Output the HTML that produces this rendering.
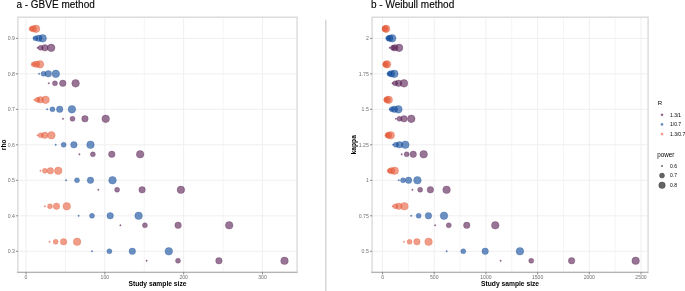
<!DOCTYPE html>
<html><head><meta charset="utf-8"><title>Sample size plots</title>
<style>html,body{margin:0;padding:0;background:#fff;}svg{display:block;will-change:transform;}</style></head>
<body><svg width="685" height="291" viewBox="0 0 685 291" style="font-family:'Liberation Sans',sans-serif">
<rect width="685" height="291" fill="#fff"/>
<line x1="65.41" y1="17.2" x2="65.41" y2="272.4" stroke="#f5f5f5" stroke-width="1"/>
<line x1="144.25" y1="17.2" x2="144.25" y2="272.4" stroke="#f5f5f5" stroke-width="1"/>
<line x1="223.07" y1="17.2" x2="223.07" y2="272.4" stroke="#f5f5f5" stroke-width="1"/>
<line x1="26" y1="17.2" x2="26" y2="272.4" stroke="#efefef" stroke-width="1"/>
<line x1="104.83" y1="17.2" x2="104.83" y2="272.4" stroke="#efefef" stroke-width="1"/>
<line x1="183.66" y1="17.2" x2="183.66" y2="272.4" stroke="#efefef" stroke-width="1"/>
<line x1="262.49" y1="17.2" x2="262.49" y2="272.4" stroke="#efefef" stroke-width="1"/>
<line x1="17.9" y1="38.35" x2="297.1" y2="38.35" stroke="#efefef" stroke-width="1"/>
<line x1="17.9" y1="73.84" x2="297.1" y2="73.84" stroke="#efefef" stroke-width="1"/>
<line x1="17.9" y1="109.33" x2="297.1" y2="109.33" stroke="#efefef" stroke-width="1"/>
<line x1="17.9" y1="144.82" x2="297.1" y2="144.82" stroke="#efefef" stroke-width="1"/>
<line x1="17.9" y1="180.31" x2="297.1" y2="180.31" stroke="#efefef" stroke-width="1"/>
<line x1="17.9" y1="215.8" x2="297.1" y2="215.8" stroke="#efefef" stroke-width="1"/>
<line x1="17.9" y1="251.29" x2="297.1" y2="251.29" stroke="#efefef" stroke-width="1"/>
<circle cx="30.3" cy="28.85" r="0.75" fill="rgba(228,90,57,0.6)" stroke="rgba(228,90,57,0.6)" stroke-width="0.45"/>
<circle cx="31.5" cy="28.85" r="2.5" fill="rgba(228,90,57,0.6)" stroke="rgba(228,90,57,0.6)" stroke-width="0.45"/>
<circle cx="33.4" cy="28.85" r="3.25" fill="rgba(228,90,57,0.6)" stroke="rgba(228,90,57,0.6)" stroke-width="0.45"/>
<circle cx="36.1" cy="28.85" r="3.8" fill="rgba(228,90,57,0.6)" stroke="rgba(228,90,57,0.6)" stroke-width="0.45"/>
<circle cx="34" cy="38.35" r="0.75" fill="rgba(10,70,152,0.6)" stroke="rgba(10,70,152,0.6)" stroke-width="0.45"/>
<circle cx="35.5" cy="38.35" r="2.5" fill="rgba(10,70,152,0.6)" stroke="rgba(10,70,152,0.6)" stroke-width="0.45"/>
<circle cx="38.8" cy="38.35" r="3.25" fill="rgba(10,70,152,0.6)" stroke="rgba(10,70,152,0.6)" stroke-width="0.45"/>
<circle cx="42.7" cy="38.35" r="3.8" fill="rgba(10,70,152,0.6)" stroke="rgba(10,70,152,0.6)" stroke-width="0.45"/>
<circle cx="37.6" cy="47.85" r="0.75" fill="rgba(84,24,78,0.6)" stroke="rgba(84,24,78,0.6)" stroke-width="0.45"/>
<circle cx="40.6" cy="47.85" r="2.5" fill="rgba(84,24,78,0.6)" stroke="rgba(84,24,78,0.6)" stroke-width="0.45"/>
<circle cx="44.9" cy="47.85" r="3.25" fill="rgba(84,24,78,0.6)" stroke="rgba(84,24,78,0.6)" stroke-width="0.45"/>
<circle cx="51.2" cy="47.85" r="3.8" fill="rgba(84,24,78,0.6)" stroke="rgba(84,24,78,0.6)" stroke-width="0.45"/>
<circle cx="32.4" cy="64.34" r="0.75" fill="rgba(228,90,57,0.6)" stroke="rgba(228,90,57,0.6)" stroke-width="0.45"/>
<circle cx="33.7" cy="64.34" r="2.5" fill="rgba(228,90,57,0.6)" stroke="rgba(228,90,57,0.6)" stroke-width="0.45"/>
<circle cx="36.4" cy="64.34" r="3.25" fill="rgba(228,90,57,0.6)" stroke="rgba(228,90,57,0.6)" stroke-width="0.45"/>
<circle cx="40" cy="64.34" r="3.8" fill="rgba(228,90,57,0.6)" stroke="rgba(228,90,57,0.6)" stroke-width="0.45"/>
<circle cx="39.1" cy="73.84" r="0.75" fill="rgba(10,70,152,0.6)" stroke="rgba(10,70,152,0.6)" stroke-width="0.45"/>
<circle cx="43.5" cy="73.84" r="2.5" fill="rgba(10,70,152,0.6)" stroke="rgba(10,70,152,0.6)" stroke-width="0.45"/>
<circle cx="48.3" cy="73.84" r="3.25" fill="rgba(10,70,152,0.6)" stroke="rgba(10,70,152,0.6)" stroke-width="0.45"/>
<circle cx="55.8" cy="73.84" r="3.8" fill="rgba(10,70,152,0.6)" stroke="rgba(10,70,152,0.6)" stroke-width="0.45"/>
<circle cx="48.75" cy="83.34" r="0.75" fill="rgba(84,24,78,0.6)" stroke="rgba(84,24,78,0.6)" stroke-width="0.45"/>
<circle cx="54.95" cy="83.34" r="2.5" fill="rgba(84,24,78,0.6)" stroke="rgba(84,24,78,0.6)" stroke-width="0.45"/>
<circle cx="62.8" cy="83.34" r="3.25" fill="rgba(84,24,78,0.6)" stroke="rgba(84,24,78,0.6)" stroke-width="0.45"/>
<circle cx="75.6" cy="83.34" r="3.8" fill="rgba(84,24,78,0.6)" stroke="rgba(84,24,78,0.6)" stroke-width="0.45"/>
<circle cx="34.4" cy="99.83" r="0.75" fill="rgba(228,90,57,0.6)" stroke="rgba(228,90,57,0.6)" stroke-width="0.45"/>
<circle cx="37.4" cy="99.83" r="2.5" fill="rgba(228,90,57,0.6)" stroke="rgba(228,90,57,0.6)" stroke-width="0.45"/>
<circle cx="40.3" cy="99.83" r="3.25" fill="rgba(228,90,57,0.6)" stroke="rgba(228,90,57,0.6)" stroke-width="0.45"/>
<circle cx="45.6" cy="99.83" r="3.8" fill="rgba(228,90,57,0.6)" stroke="rgba(228,90,57,0.6)" stroke-width="0.45"/>
<circle cx="47.15" cy="109.33" r="0.75" fill="rgba(10,70,152,0.6)" stroke="rgba(10,70,152,0.6)" stroke-width="0.45"/>
<circle cx="52.45" cy="109.33" r="2.5" fill="rgba(10,70,152,0.6)" stroke="rgba(10,70,152,0.6)" stroke-width="0.45"/>
<circle cx="59.7" cy="109.33" r="3.25" fill="rgba(10,70,152,0.6)" stroke="rgba(10,70,152,0.6)" stroke-width="0.45"/>
<circle cx="71.9" cy="109.33" r="3.8" fill="rgba(10,70,152,0.6)" stroke="rgba(10,70,152,0.6)" stroke-width="0.45"/>
<circle cx="63" cy="118.83" r="0.75" fill="rgba(84,24,78,0.6)" stroke="rgba(84,24,78,0.6)" stroke-width="0.45"/>
<circle cx="72.5" cy="118.83" r="2.5" fill="rgba(84,24,78,0.6)" stroke="rgba(84,24,78,0.6)" stroke-width="0.45"/>
<circle cx="84.95" cy="118.83" r="3.25" fill="rgba(84,24,78,0.6)" stroke="rgba(84,24,78,0.6)" stroke-width="0.45"/>
<circle cx="105.7" cy="118.83" r="3.8" fill="rgba(84,24,78,0.6)" stroke="rgba(84,24,78,0.6)" stroke-width="0.45"/>
<circle cx="37.6" cy="135.32" r="0.75" fill="rgba(228,90,57,0.6)" stroke="rgba(228,90,57,0.6)" stroke-width="0.45"/>
<circle cx="40.75" cy="135.32" r="2.5" fill="rgba(228,90,57,0.6)" stroke="rgba(228,90,57,0.6)" stroke-width="0.45"/>
<circle cx="44.8" cy="135.32" r="3.25" fill="rgba(228,90,57,0.6)" stroke="rgba(228,90,57,0.6)" stroke-width="0.45"/>
<circle cx="51.4" cy="135.32" r="3.8" fill="rgba(228,90,57,0.6)" stroke="rgba(228,90,57,0.6)" stroke-width="0.45"/>
<circle cx="55.7" cy="144.82" r="0.75" fill="rgba(10,70,152,0.6)" stroke="rgba(10,70,152,0.6)" stroke-width="0.45"/>
<circle cx="63.65" cy="144.82" r="2.5" fill="rgba(10,70,152,0.6)" stroke="rgba(10,70,152,0.6)" stroke-width="0.45"/>
<circle cx="73.9" cy="144.82" r="3.25" fill="rgba(10,70,152,0.6)" stroke="rgba(10,70,152,0.6)" stroke-width="0.45"/>
<circle cx="90.5" cy="144.82" r="3.8" fill="rgba(10,70,152,0.6)" stroke="rgba(10,70,152,0.6)" stroke-width="0.45"/>
<circle cx="79.4" cy="154.32" r="0.75" fill="rgba(84,24,78,0.6)" stroke="rgba(84,24,78,0.6)" stroke-width="0.45"/>
<circle cx="92.85" cy="154.32" r="2.5" fill="rgba(84,24,78,0.6)" stroke="rgba(84,24,78,0.6)" stroke-width="0.45"/>
<circle cx="111.8" cy="154.32" r="3.25" fill="rgba(84,24,78,0.6)" stroke="rgba(84,24,78,0.6)" stroke-width="0.45"/>
<circle cx="140.15" cy="154.32" r="3.8" fill="rgba(84,24,78,0.6)" stroke="rgba(84,24,78,0.6)" stroke-width="0.45"/>
<circle cx="40.5" cy="170.81" r="0.75" fill="rgba(228,90,57,0.6)" stroke="rgba(228,90,57,0.6)" stroke-width="0.45"/>
<circle cx="44.85" cy="170.81" r="2.5" fill="rgba(228,90,57,0.6)" stroke="rgba(228,90,57,0.6)" stroke-width="0.45"/>
<circle cx="50.4" cy="170.81" r="3.25" fill="rgba(228,90,57,0.6)" stroke="rgba(228,90,57,0.6)" stroke-width="0.45"/>
<circle cx="58.25" cy="170.81" r="3.8" fill="rgba(228,90,57,0.6)" stroke="rgba(228,90,57,0.6)" stroke-width="0.45"/>
<circle cx="66.1" cy="180.31" r="0.75" fill="rgba(10,70,152,0.6)" stroke="rgba(10,70,152,0.6)" stroke-width="0.45"/>
<circle cx="77" cy="180.31" r="2.5" fill="rgba(10,70,152,0.6)" stroke="rgba(10,70,152,0.6)" stroke-width="0.45"/>
<circle cx="90.45" cy="180.31" r="3.25" fill="rgba(10,70,152,0.6)" stroke="rgba(10,70,152,0.6)" stroke-width="0.45"/>
<circle cx="112.5" cy="180.31" r="3.8" fill="rgba(10,70,152,0.6)" stroke="rgba(10,70,152,0.6)" stroke-width="0.45"/>
<circle cx="98.3" cy="189.81" r="0.75" fill="rgba(84,24,78,0.6)" stroke="rgba(84,24,78,0.6)" stroke-width="0.45"/>
<circle cx="117.1" cy="189.81" r="2.5" fill="rgba(84,24,78,0.6)" stroke="rgba(84,24,78,0.6)" stroke-width="0.45"/>
<circle cx="142.1" cy="189.81" r="3.25" fill="rgba(84,24,78,0.6)" stroke="rgba(84,24,78,0.6)" stroke-width="0.45"/>
<circle cx="180.9" cy="189.81" r="3.8" fill="rgba(84,24,78,0.6)" stroke="rgba(84,24,78,0.6)" stroke-width="0.45"/>
<circle cx="44.8" cy="206.3" r="0.75" fill="rgba(228,90,57,0.6)" stroke="rgba(228,90,57,0.6)" stroke-width="0.45"/>
<circle cx="50" cy="206.3" r="2.5" fill="rgba(228,90,57,0.6)" stroke="rgba(228,90,57,0.6)" stroke-width="0.45"/>
<circle cx="56.5" cy="206.3" r="3.25" fill="rgba(228,90,57,0.6)" stroke="rgba(228,90,57,0.6)" stroke-width="0.45"/>
<circle cx="66.75" cy="206.3" r="3.8" fill="rgba(228,90,57,0.6)" stroke="rgba(228,90,57,0.6)" stroke-width="0.45"/>
<circle cx="78.65" cy="215.8" r="0.75" fill="rgba(10,70,152,0.6)" stroke="rgba(10,70,152,0.6)" stroke-width="0.45"/>
<circle cx="92" cy="215.8" r="2.5" fill="rgba(10,70,152,0.6)" stroke="rgba(10,70,152,0.6)" stroke-width="0.45"/>
<circle cx="110.2" cy="215.8" r="3.25" fill="rgba(10,70,152,0.6)" stroke="rgba(10,70,152,0.6)" stroke-width="0.45"/>
<circle cx="138.6" cy="215.8" r="3.8" fill="rgba(10,70,152,0.6)" stroke="rgba(10,70,152,0.6)" stroke-width="0.45"/>
<circle cx="120.4" cy="225.3" r="0.75" fill="rgba(84,24,78,0.6)" stroke="rgba(84,24,78,0.6)" stroke-width="0.45"/>
<circle cx="144.9" cy="225.3" r="2.5" fill="rgba(84,24,78,0.6)" stroke="rgba(84,24,78,0.6)" stroke-width="0.45"/>
<circle cx="178.1" cy="225.3" r="3.25" fill="rgba(84,24,78,0.6)" stroke="rgba(84,24,78,0.6)" stroke-width="0.45"/>
<circle cx="229.2" cy="225.3" r="3.8" fill="rgba(84,24,78,0.6)" stroke="rgba(84,24,78,0.6)" stroke-width="0.45"/>
<circle cx="49.5" cy="241.79" r="0.75" fill="rgba(228,90,57,0.6)" stroke="rgba(228,90,57,0.6)" stroke-width="0.45"/>
<circle cx="55.7" cy="241.79" r="2.5" fill="rgba(228,90,57,0.6)" stroke="rgba(228,90,57,0.6)" stroke-width="0.45"/>
<circle cx="63.6" cy="241.79" r="3.25" fill="rgba(228,90,57,0.6)" stroke="rgba(228,90,57,0.6)" stroke-width="0.45"/>
<circle cx="77.1" cy="241.79" r="3.8" fill="rgba(228,90,57,0.6)" stroke="rgba(228,90,57,0.6)" stroke-width="0.45"/>
<circle cx="92" cy="251.29" r="0.75" fill="rgba(10,70,152,0.6)" stroke="rgba(10,70,152,0.6)" stroke-width="0.45"/>
<circle cx="109.4" cy="251.29" r="2.5" fill="rgba(10,70,152,0.6)" stroke="rgba(10,70,152,0.6)" stroke-width="0.45"/>
<circle cx="132.3" cy="251.29" r="3.25" fill="rgba(10,70,152,0.6)" stroke="rgba(10,70,152,0.6)" stroke-width="0.45"/>
<circle cx="168.8" cy="251.29" r="3.8" fill="rgba(10,70,152,0.6)" stroke="rgba(10,70,152,0.6)" stroke-width="0.45"/>
<circle cx="146.6" cy="260.79" r="0.75" fill="rgba(84,24,78,0.6)" stroke="rgba(84,24,78,0.6)" stroke-width="0.45"/>
<circle cx="178" cy="260.79" r="2.5" fill="rgba(84,24,78,0.6)" stroke="rgba(84,24,78,0.6)" stroke-width="0.45"/>
<circle cx="218.9" cy="260.79" r="3.25" fill="rgba(84,24,78,0.6)" stroke="rgba(84,24,78,0.6)" stroke-width="0.45"/>
<circle cx="284.5" cy="260.79" r="3.8" fill="rgba(84,24,78,0.6)" stroke="rgba(84,24,78,0.6)" stroke-width="0.45"/>
<rect x="17.9" y="17.2" width="279.2" height="255.2" fill="none" stroke="#dadada" stroke-width="1.4"/>
<line x1="17.099999999999998" y1="272.4" x2="297.40000000000003" y2="272.4" stroke="#b4b4b4" stroke-width="1.1"/>
<line x1="15.9" y1="38.35" x2="17.9" y2="38.35" stroke="#555" stroke-width="0.7"/>
<line x1="15.9" y1="73.84" x2="17.9" y2="73.84" stroke="#555" stroke-width="0.7"/>
<line x1="15.9" y1="109.33" x2="17.9" y2="109.33" stroke="#555" stroke-width="0.7"/>
<line x1="15.9" y1="144.82" x2="17.9" y2="144.82" stroke="#555" stroke-width="0.7"/>
<line x1="15.9" y1="180.31" x2="17.9" y2="180.31" stroke="#555" stroke-width="0.7"/>
<line x1="15.9" y1="215.8" x2="17.9" y2="215.8" stroke="#555" stroke-width="0.7"/>
<line x1="15.9" y1="251.29" x2="17.9" y2="251.29" stroke="#555" stroke-width="0.7"/>
<line x1="26" y1="272.4" x2="26" y2="274.4" stroke="#555" stroke-width="0.7"/>
<line x1="104.83" y1="272.4" x2="104.83" y2="274.4" stroke="#555" stroke-width="0.7"/>
<line x1="183.66" y1="272.4" x2="183.66" y2="274.4" stroke="#555" stroke-width="0.7"/>
<line x1="262.49" y1="272.4" x2="262.49" y2="274.4" stroke="#555" stroke-width="0.7"/>
<text x="15.0" y="40.45" font-size="5.2" fill="#707070" text-anchor="end" font-family="Liberation Sans, sans-serif">0.9</text>
<text x="15.0" y="75.94" font-size="5.2" fill="#707070" text-anchor="end" font-family="Liberation Sans, sans-serif">0.8</text>
<text x="15.0" y="111.43" font-size="5.2" fill="#707070" text-anchor="end" font-family="Liberation Sans, sans-serif">0.7</text>
<text x="15.0" y="146.92" font-size="5.2" fill="#707070" text-anchor="end" font-family="Liberation Sans, sans-serif">0.6</text>
<text x="15.0" y="182.41" font-size="5.2" fill="#707070" text-anchor="end" font-family="Liberation Sans, sans-serif">0.5</text>
<text x="15.0" y="217.9" font-size="5.2" fill="#707070" text-anchor="end" font-family="Liberation Sans, sans-serif">0.4</text>
<text x="15.0" y="253.39" font-size="5.2" fill="#707070" text-anchor="end" font-family="Liberation Sans, sans-serif">0.3</text>
<text x="26" y="278.6" font-size="5.1" fill="#707070" text-anchor="middle" font-family="Liberation Sans, sans-serif">0</text>
<text x="104.83" y="278.6" font-size="5.1" fill="#707070" text-anchor="middle" font-family="Liberation Sans, sans-serif">100</text>
<text x="183.66" y="278.6" font-size="5.1" fill="#707070" text-anchor="middle" font-family="Liberation Sans, sans-serif">200</text>
<text x="262.49" y="278.6" font-size="5.1" fill="#707070" text-anchor="middle" font-family="Liberation Sans, sans-serif">300</text>
<text x="157.5" y="286.1" font-size="6.7" font-weight="bold" fill="#000" text-anchor="middle" font-family="Liberation Sans, sans-serif">Study sample size</text>
<text transform="translate(5.5,144.8) rotate(-90)" x="0" y="0" font-size="6.7" font-weight="bold" fill="#000" text-anchor="middle" font-family="Liberation Sans, sans-serif">rho</text>
<text x="16.4" y="7.5" font-size="10" fill="#000" stroke="#000" stroke-width="0.12" font-family="Liberation Sans, sans-serif">a - GBVE method</text>
<line x1="408.39" y1="17.2" x2="408.39" y2="272.4" stroke="#f5f5f5" stroke-width="1"/>
<line x1="460.09" y1="17.2" x2="460.09" y2="272.4" stroke="#f5f5f5" stroke-width="1"/>
<line x1="511.77" y1="17.2" x2="511.77" y2="272.4" stroke="#f5f5f5" stroke-width="1"/>
<line x1="563.47" y1="17.2" x2="563.47" y2="272.4" stroke="#f5f5f5" stroke-width="1"/>
<line x1="615.15" y1="17.2" x2="615.15" y2="272.4" stroke="#f5f5f5" stroke-width="1"/>
<line x1="382.55" y1="17.2" x2="382.55" y2="272.4" stroke="#efefef" stroke-width="1"/>
<line x1="434.24" y1="17.2" x2="434.24" y2="272.4" stroke="#efefef" stroke-width="1"/>
<line x1="485.93" y1="17.2" x2="485.93" y2="272.4" stroke="#efefef" stroke-width="1"/>
<line x1="537.62" y1="17.2" x2="537.62" y2="272.4" stroke="#efefef" stroke-width="1"/>
<line x1="589.31" y1="17.2" x2="589.31" y2="272.4" stroke="#efefef" stroke-width="1"/>
<line x1="641" y1="17.2" x2="641" y2="272.4" stroke="#efefef" stroke-width="1"/>
<line x1="372.1" y1="38.35" x2="648.1" y2="38.35" stroke="#efefef" stroke-width="1"/>
<line x1="372.1" y1="73.84" x2="648.1" y2="73.84" stroke="#efefef" stroke-width="1"/>
<line x1="372.1" y1="109.33" x2="648.1" y2="109.33" stroke="#efefef" stroke-width="1"/>
<line x1="372.1" y1="144.82" x2="648.1" y2="144.82" stroke="#efefef" stroke-width="1"/>
<line x1="372.1" y1="180.31" x2="648.1" y2="180.31" stroke="#efefef" stroke-width="1"/>
<line x1="372.1" y1="215.8" x2="648.1" y2="215.8" stroke="#efefef" stroke-width="1"/>
<line x1="372.1" y1="251.29" x2="648.1" y2="251.29" stroke="#efefef" stroke-width="1"/>
<circle cx="384.23" cy="28.85" r="0.75" fill="rgba(228,90,57,0.6)" stroke="rgba(228,90,57,0.6)" stroke-width="0.45"/>
<circle cx="384.67" cy="28.85" r="2.5" fill="rgba(228,90,57,0.6)" stroke="rgba(228,90,57,0.6)" stroke-width="0.45"/>
<circle cx="385.24" cy="28.85" r="3.25" fill="rgba(228,90,57,0.6)" stroke="rgba(228,90,57,0.6)" stroke-width="0.45"/>
<circle cx="386.15" cy="28.85" r="3.8" fill="rgba(228,90,57,0.6)" stroke="rgba(228,90,57,0.6)" stroke-width="0.45"/>
<circle cx="387.05" cy="38.35" r="0.75" fill="rgba(10,70,152,0.6)" stroke="rgba(10,70,152,0.6)" stroke-width="0.45"/>
<circle cx="388.22" cy="38.35" r="2.5" fill="rgba(10,70,152,0.6)" stroke="rgba(10,70,152,0.6)" stroke-width="0.45"/>
<circle cx="389.76" cy="38.35" r="3.25" fill="rgba(10,70,152,0.6)" stroke="rgba(10,70,152,0.6)" stroke-width="0.45"/>
<circle cx="392.2" cy="38.35" r="3.8" fill="rgba(10,70,152,0.6)" stroke="rgba(10,70,152,0.6)" stroke-width="0.45"/>
<circle cx="389.7" cy="47.85" r="0.75" fill="rgba(84,24,78,0.6)" stroke="rgba(84,24,78,0.6)" stroke-width="0.45"/>
<circle cx="392.85" cy="47.85" r="2.5" fill="rgba(84,24,78,0.6)" stroke="rgba(84,24,78,0.6)" stroke-width="0.45"/>
<circle cx="394.8" cy="47.85" r="3.25" fill="rgba(84,24,78,0.6)" stroke="rgba(84,24,78,0.6)" stroke-width="0.45"/>
<circle cx="399.1" cy="47.85" r="3.8" fill="rgba(84,24,78,0.6)" stroke="rgba(84,24,78,0.6)" stroke-width="0.45"/>
<circle cx="384.7" cy="64.34" r="0.75" fill="rgba(228,90,57,0.6)" stroke="rgba(228,90,57,0.6)" stroke-width="0.45"/>
<circle cx="385.26" cy="64.34" r="2.5" fill="rgba(228,90,57,0.6)" stroke="rgba(228,90,57,0.6)" stroke-width="0.45"/>
<circle cx="385.99" cy="64.34" r="3.25" fill="rgba(228,90,57,0.6)" stroke="rgba(228,90,57,0.6)" stroke-width="0.45"/>
<circle cx="387.16" cy="64.34" r="3.8" fill="rgba(228,90,57,0.6)" stroke="rgba(228,90,57,0.6)" stroke-width="0.45"/>
<circle cx="388.05" cy="73.84" r="0.75" fill="rgba(10,70,152,0.6)" stroke="rgba(10,70,152,0.6)" stroke-width="0.45"/>
<circle cx="389.48" cy="73.84" r="2.5" fill="rgba(10,70,152,0.6)" stroke="rgba(10,70,152,0.6)" stroke-width="0.45"/>
<circle cx="391.36" cy="73.84" r="3.25" fill="rgba(10,70,152,0.6)" stroke="rgba(10,70,152,0.6)" stroke-width="0.45"/>
<circle cx="394.35" cy="73.84" r="3.8" fill="rgba(10,70,152,0.6)" stroke="rgba(10,70,152,0.6)" stroke-width="0.45"/>
<circle cx="392.55" cy="83.34" r="0.75" fill="rgba(84,24,78,0.6)" stroke="rgba(84,24,78,0.6)" stroke-width="0.45"/>
<circle cx="395.15" cy="83.34" r="2.5" fill="rgba(84,24,78,0.6)" stroke="rgba(84,24,78,0.6)" stroke-width="0.45"/>
<circle cx="398.57" cy="83.34" r="3.25" fill="rgba(84,24,78,0.6)" stroke="rgba(84,24,78,0.6)" stroke-width="0.45"/>
<circle cx="404" cy="83.34" r="3.8" fill="rgba(84,24,78,0.6)" stroke="rgba(84,24,78,0.6)" stroke-width="0.45"/>
<circle cx="385.45" cy="99.83" r="0.75" fill="rgba(228,90,57,0.6)" stroke="rgba(228,90,57,0.6)" stroke-width="0.45"/>
<circle cx="386.2" cy="99.83" r="2.5" fill="rgba(228,90,57,0.6)" stroke="rgba(228,90,57,0.6)" stroke-width="0.45"/>
<circle cx="387.2" cy="99.83" r="3.25" fill="rgba(228,90,57,0.6)" stroke="rgba(228,90,57,0.6)" stroke-width="0.45"/>
<circle cx="388.77" cy="99.83" r="3.8" fill="rgba(228,90,57,0.6)" stroke="rgba(228,90,57,0.6)" stroke-width="0.45"/>
<circle cx="389.95" cy="109.33" r="0.75" fill="rgba(10,70,152,0.6)" stroke="rgba(10,70,152,0.6)" stroke-width="0.45"/>
<circle cx="391.87" cy="109.33" r="2.5" fill="rgba(10,70,152,0.6)" stroke="rgba(10,70,152,0.6)" stroke-width="0.45"/>
<circle cx="394.41" cy="109.33" r="3.25" fill="rgba(10,70,152,0.6)" stroke="rgba(10,70,152,0.6)" stroke-width="0.45"/>
<circle cx="398.42" cy="109.33" r="3.8" fill="rgba(10,70,152,0.6)" stroke="rgba(10,70,152,0.6)" stroke-width="0.45"/>
<circle cx="395.95" cy="118.83" r="0.75" fill="rgba(84,24,78,0.6)" stroke="rgba(84,24,78,0.6)" stroke-width="0.45"/>
<circle cx="399.43" cy="118.83" r="2.5" fill="rgba(84,24,78,0.6)" stroke="rgba(84,24,78,0.6)" stroke-width="0.45"/>
<circle cx="404.02" cy="118.83" r="3.25" fill="rgba(84,24,78,0.6)" stroke="rgba(84,24,78,0.6)" stroke-width="0.45"/>
<circle cx="411.29" cy="118.83" r="3.8" fill="rgba(84,24,78,0.6)" stroke="rgba(84,24,78,0.6)" stroke-width="0.45"/>
<circle cx="386.4" cy="135.32" r="0.75" fill="rgba(228,90,57,0.6)" stroke="rgba(228,90,57,0.6)" stroke-width="0.45"/>
<circle cx="387.4" cy="135.32" r="2.5" fill="rgba(228,90,57,0.6)" stroke="rgba(228,90,57,0.6)" stroke-width="0.45"/>
<circle cx="388.72" cy="135.32" r="3.25" fill="rgba(228,90,57,0.6)" stroke="rgba(228,90,57,0.6)" stroke-width="0.45"/>
<circle cx="390.81" cy="135.32" r="3.8" fill="rgba(228,90,57,0.6)" stroke="rgba(228,90,57,0.6)" stroke-width="0.45"/>
<circle cx="393.15" cy="144.82" r="0.75" fill="rgba(10,70,152,0.6)" stroke="rgba(10,70,152,0.6)" stroke-width="0.45"/>
<circle cx="395.9" cy="144.82" r="2.5" fill="rgba(10,70,152,0.6)" stroke="rgba(10,70,152,0.6)" stroke-width="0.45"/>
<circle cx="399.53" cy="144.82" r="3.25" fill="rgba(10,70,152,0.6)" stroke="rgba(10,70,152,0.6)" stroke-width="0.45"/>
<circle cx="405.29" cy="144.82" r="3.8" fill="rgba(10,70,152,0.6)" stroke="rgba(10,70,152,0.6)" stroke-width="0.45"/>
<circle cx="401.7" cy="154.32" r="0.75" fill="rgba(84,24,78,0.6)" stroke="rgba(84,24,78,0.6)" stroke-width="0.45"/>
<circle cx="406.68" cy="154.32" r="2.5" fill="rgba(84,24,78,0.6)" stroke="rgba(84,24,78,0.6)" stroke-width="0.45"/>
<circle cx="413.23" cy="154.32" r="3.25" fill="rgba(84,24,78,0.6)" stroke="rgba(84,24,78,0.6)" stroke-width="0.45"/>
<circle cx="423.63" cy="154.32" r="3.8" fill="rgba(84,24,78,0.6)" stroke="rgba(84,24,78,0.6)" stroke-width="0.45"/>
<circle cx="388.25" cy="170.81" r="0.75" fill="rgba(228,90,57,0.6)" stroke="rgba(228,90,57,0.6)" stroke-width="0.45"/>
<circle cx="389.73" cy="170.81" r="2.5" fill="rgba(228,90,57,0.6)" stroke="rgba(228,90,57,0.6)" stroke-width="0.45"/>
<circle cx="391.68" cy="170.81" r="3.25" fill="rgba(228,90,57,0.6)" stroke="rgba(228,90,57,0.6)" stroke-width="0.45"/>
<circle cx="394.78" cy="170.81" r="3.8" fill="rgba(228,90,57,0.6)" stroke="rgba(228,90,57,0.6)" stroke-width="0.45"/>
<circle cx="398.8" cy="180.31" r="0.75" fill="rgba(10,70,152,0.6)" stroke="rgba(10,70,152,0.6)" stroke-width="0.45"/>
<circle cx="403.02" cy="180.31" r="2.5" fill="rgba(10,70,152,0.6)" stroke="rgba(10,70,152,0.6)" stroke-width="0.45"/>
<circle cx="408.59" cy="180.31" r="3.25" fill="rgba(10,70,152,0.6)" stroke="rgba(10,70,152,0.6)" stroke-width="0.45"/>
<circle cx="417.41" cy="180.31" r="3.8" fill="rgba(10,70,152,0.6)" stroke="rgba(10,70,152,0.6)" stroke-width="0.45"/>
<circle cx="412.4" cy="189.81" r="0.75" fill="rgba(84,24,78,0.6)" stroke="rgba(84,24,78,0.6)" stroke-width="0.45"/>
<circle cx="420.16" cy="189.81" r="2.5" fill="rgba(84,24,78,0.6)" stroke="rgba(84,24,78,0.6)" stroke-width="0.45"/>
<circle cx="430.38" cy="189.81" r="3.25" fill="rgba(84,24,78,0.6)" stroke="rgba(84,24,78,0.6)" stroke-width="0.45"/>
<circle cx="446.58" cy="189.81" r="3.8" fill="rgba(84,24,78,0.6)" stroke="rgba(84,24,78,0.6)" stroke-width="0.45"/>
<circle cx="392.75" cy="206.3" r="0.75" fill="rgba(228,90,57,0.6)" stroke="rgba(228,90,57,0.6)" stroke-width="0.45"/>
<circle cx="395.4" cy="206.3" r="2.5" fill="rgba(228,90,57,0.6)" stroke="rgba(228,90,57,0.6)" stroke-width="0.45"/>
<circle cx="398.89" cy="206.3" r="3.25" fill="rgba(228,90,57,0.6)" stroke="rgba(228,90,57,0.6)" stroke-width="0.45"/>
<circle cx="404.43" cy="206.3" r="3.8" fill="rgba(228,90,57,0.6)" stroke="rgba(228,90,57,0.6)" stroke-width="0.45"/>
<circle cx="411.2" cy="215.8" r="0.75" fill="rgba(10,70,152,0.6)" stroke="rgba(10,70,152,0.6)" stroke-width="0.45"/>
<circle cx="418.65" cy="215.8" r="2.5" fill="rgba(10,70,152,0.6)" stroke="rgba(10,70,152,0.6)" stroke-width="0.45"/>
<circle cx="428.45" cy="215.8" r="3.25" fill="rgba(10,70,152,0.6)" stroke="rgba(10,70,152,0.6)" stroke-width="0.45"/>
<circle cx="444" cy="215.8" r="3.8" fill="rgba(10,70,152,0.6)" stroke="rgba(10,70,152,0.6)" stroke-width="0.45"/>
<circle cx="435.1" cy="225.3" r="0.75" fill="rgba(84,24,78,0.6)" stroke="rgba(84,24,78,0.6)" stroke-width="0.45"/>
<circle cx="448.76" cy="225.3" r="2.5" fill="rgba(84,24,78,0.6)" stroke="rgba(84,24,78,0.6)" stroke-width="0.45"/>
<circle cx="466.75" cy="225.3" r="3.25" fill="rgba(84,24,78,0.6)" stroke="rgba(84,24,78,0.6)" stroke-width="0.45"/>
<circle cx="495.27" cy="225.3" r="3.8" fill="rgba(84,24,78,0.6)" stroke="rgba(84,24,78,0.6)" stroke-width="0.45"/>
<circle cx="404" cy="241.79" r="0.75" fill="rgba(228,90,57,0.6)" stroke="rgba(228,90,57,0.6)" stroke-width="0.45"/>
<circle cx="409.57" cy="241.79" r="2.5" fill="rgba(228,90,57,0.6)" stroke="rgba(228,90,57,0.6)" stroke-width="0.45"/>
<circle cx="416.92" cy="241.79" r="3.25" fill="rgba(228,90,57,0.6)" stroke="rgba(228,90,57,0.6)" stroke-width="0.45"/>
<circle cx="428.56" cy="241.79" r="3.8" fill="rgba(228,90,57,0.6)" stroke="rgba(228,90,57,0.6)" stroke-width="0.45"/>
<circle cx="446.6" cy="251.29" r="0.75" fill="rgba(10,70,152,0.6)" stroke="rgba(10,70,152,0.6)" stroke-width="0.45"/>
<circle cx="463.25" cy="251.29" r="2.5" fill="rgba(10,70,152,0.6)" stroke="rgba(10,70,152,0.6)" stroke-width="0.45"/>
<circle cx="485.17" cy="251.29" r="3.25" fill="rgba(10,70,152,0.6)" stroke="rgba(10,70,152,0.6)" stroke-width="0.45"/>
<circle cx="519.94" cy="251.29" r="3.8" fill="rgba(10,70,152,0.6)" stroke="rgba(10,70,152,0.6)" stroke-width="0.45"/>
<circle cx="500.55" cy="260.79" r="0.75" fill="rgba(84,24,78,0.6)" stroke="rgba(84,24,78,0.6)" stroke-width="0.45"/>
<circle cx="531.22" cy="260.79" r="2.5" fill="rgba(84,24,78,0.6)" stroke="rgba(84,24,78,0.6)" stroke-width="0.45"/>
<circle cx="571.61" cy="260.79" r="3.25" fill="rgba(84,24,78,0.6)" stroke="rgba(84,24,78,0.6)" stroke-width="0.45"/>
<circle cx="635.66" cy="260.79" r="3.8" fill="rgba(84,24,78,0.6)" stroke="rgba(84,24,78,0.6)" stroke-width="0.45"/>
<rect x="372.1" y="17.2" width="276" height="255.2" fill="none" stroke="#dadada" stroke-width="1.4"/>
<line x1="371.3" y1="272.4" x2="648.4" y2="272.4" stroke="#b4b4b4" stroke-width="1.1"/>
<line x1="370.1" y1="38.35" x2="372.1" y2="38.35" stroke="#555" stroke-width="0.7"/>
<line x1="370.1" y1="73.84" x2="372.1" y2="73.84" stroke="#555" stroke-width="0.7"/>
<line x1="370.1" y1="109.33" x2="372.1" y2="109.33" stroke="#555" stroke-width="0.7"/>
<line x1="370.1" y1="144.82" x2="372.1" y2="144.82" stroke="#555" stroke-width="0.7"/>
<line x1="370.1" y1="180.31" x2="372.1" y2="180.31" stroke="#555" stroke-width="0.7"/>
<line x1="370.1" y1="215.8" x2="372.1" y2="215.8" stroke="#555" stroke-width="0.7"/>
<line x1="370.1" y1="251.29" x2="372.1" y2="251.29" stroke="#555" stroke-width="0.7"/>
<line x1="382.55" y1="272.4" x2="382.55" y2="274.4" stroke="#555" stroke-width="0.7"/>
<line x1="434.24" y1="272.4" x2="434.24" y2="274.4" stroke="#555" stroke-width="0.7"/>
<line x1="485.93" y1="272.4" x2="485.93" y2="274.4" stroke="#555" stroke-width="0.7"/>
<line x1="537.62" y1="272.4" x2="537.62" y2="274.4" stroke="#555" stroke-width="0.7"/>
<line x1="589.31" y1="272.4" x2="589.31" y2="274.4" stroke="#555" stroke-width="0.7"/>
<line x1="641" y1="272.4" x2="641" y2="274.4" stroke="#555" stroke-width="0.7"/>
<text x="368.8" y="40.45" font-size="5.2" fill="#707070" text-anchor="end" font-family="Liberation Sans, sans-serif">2</text>
<text x="368.8" y="75.94" font-size="5.2" fill="#707070" text-anchor="end" font-family="Liberation Sans, sans-serif">1.75</text>
<text x="368.8" y="111.43" font-size="5.2" fill="#707070" text-anchor="end" font-family="Liberation Sans, sans-serif">1.5</text>
<text x="368.8" y="146.92" font-size="5.2" fill="#707070" text-anchor="end" font-family="Liberation Sans, sans-serif">1.25</text>
<text x="368.8" y="182.41" font-size="5.2" fill="#707070" text-anchor="end" font-family="Liberation Sans, sans-serif">1</text>
<text x="368.8" y="217.9" font-size="5.2" fill="#707070" text-anchor="end" font-family="Liberation Sans, sans-serif">0.75</text>
<text x="368.8" y="253.39" font-size="5.2" fill="#707070" text-anchor="end" font-family="Liberation Sans, sans-serif">0.5</text>
<text x="382.55" y="278.6" font-size="5.1" fill="#707070" text-anchor="middle" font-family="Liberation Sans, sans-serif">0</text>
<text x="434.24" y="278.6" font-size="5.1" fill="#707070" text-anchor="middle" font-family="Liberation Sans, sans-serif">500</text>
<text x="485.93" y="278.6" font-size="5.1" fill="#707070" text-anchor="middle" font-family="Liberation Sans, sans-serif">1000</text>
<text x="537.62" y="278.6" font-size="5.1" fill="#707070" text-anchor="middle" font-family="Liberation Sans, sans-serif">1500</text>
<text x="589.31" y="278.6" font-size="5.1" fill="#707070" text-anchor="middle" font-family="Liberation Sans, sans-serif">2000</text>
<text x="641" y="278.6" font-size="5.1" fill="#707070" text-anchor="middle" font-family="Liberation Sans, sans-serif">2500</text>
<text x="510.1" y="286.1" font-size="6.7" font-weight="bold" fill="#000" text-anchor="middle" font-family="Liberation Sans, sans-serif">Study sample size</text>
<text transform="translate(356.0,144.8) rotate(-90)" x="0" y="0" font-size="6.7" font-weight="bold" fill="#000" text-anchor="middle" font-family="Liberation Sans, sans-serif">kappa</text>
<text x="371.0" y="7.5" font-size="10" fill="#000" stroke="#000" stroke-width="0.12" font-family="Liberation Sans, sans-serif">b - Weibull method</text>
<line x1="325.8" y1="19.7" x2="325.8" y2="291" stroke="#d6d6d6" stroke-width="1.5"/>
<text x="657.7" y="105.2" font-size="6.1" fill="#000" font-family="Liberation Sans, sans-serif">R</text>
<circle cx="662" cy="114.8" r="1.1" fill="rgba(84,24,78,0.6)" stroke="rgba(84,24,78,0.6)" stroke-width="0.45"/>
<text x="670" y="116.6" font-size="5" fill="#000" font-family="Liberation Sans, sans-serif">1.3/1</text>
<circle cx="662" cy="124.45" r="1.1" fill="rgba(10,70,152,0.6)" stroke="rgba(10,70,152,0.6)" stroke-width="0.45"/>
<text x="670" y="126.25" font-size="5" fill="#000" font-family="Liberation Sans, sans-serif">1/0.7</text>
<circle cx="662" cy="134.1" r="1.1" fill="rgba(228,90,57,0.6)" stroke="rgba(228,90,57,0.6)" stroke-width="0.45"/>
<text x="670" y="135.9" font-size="5" fill="#000" font-family="Liberation Sans, sans-serif">1.3/0.7</text>
<text x="657.2" y="156.8" font-size="6.3" fill="#000" font-family="Liberation Sans, sans-serif">power</text>
<circle cx="662" cy="165.95" r="0.75" fill="rgba(0,0,0,0.6)" stroke="rgba(0,0,0,0.6)" stroke-width="0.45"/>
<text x="670" y="167.75" font-size="5" fill="#000" font-family="Liberation Sans, sans-serif">0.6</text>
<circle cx="662" cy="175.6" r="2.5" fill="rgba(0,0,0,0.6)" stroke="rgba(0,0,0,0.6)" stroke-width="0.45"/>
<text x="670" y="177.4" font-size="5" fill="#000" font-family="Liberation Sans, sans-serif">0.7</text>
<circle cx="662" cy="185.3" r="3.25" fill="rgba(0,0,0,0.6)" stroke="rgba(0,0,0,0.6)" stroke-width="0.45"/>
<text x="670" y="187.1" font-size="5" fill="#000" font-family="Liberation Sans, sans-serif">0.8</text>
</svg></body></html>
